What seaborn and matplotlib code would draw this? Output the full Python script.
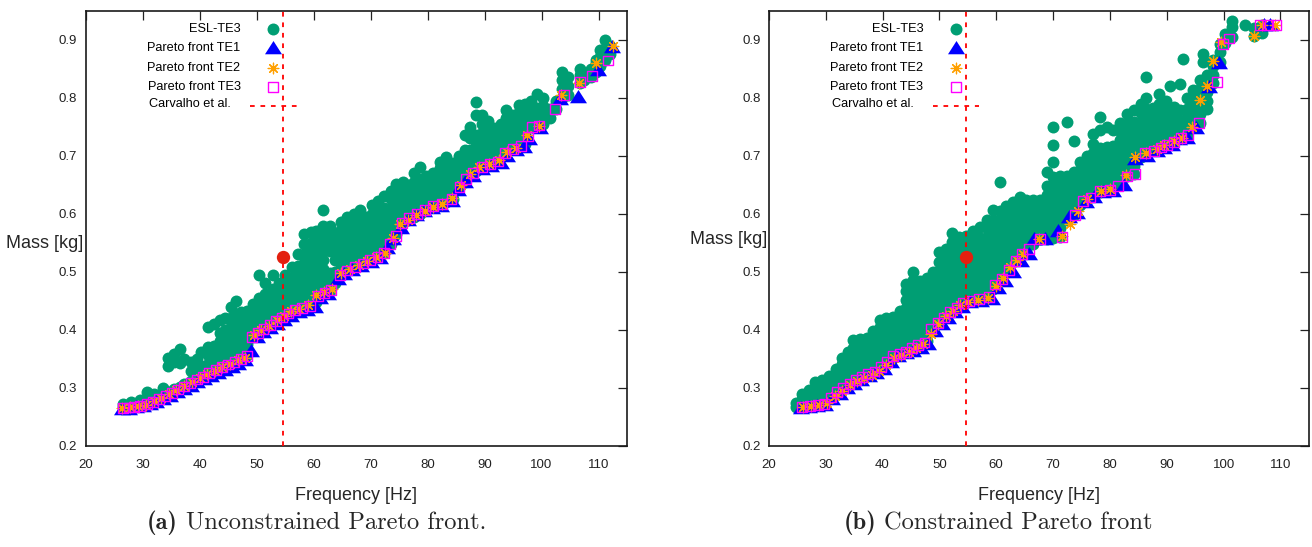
import matplotlib
matplotlib.use("Agg")
import matplotlib.pyplot as plt
import seaborn as sns
import pandas as pd

# ---------------- data ----------------
# (a) unconstrained: ESL-TE3 design cloud, one column of masses per frequency
a_esl_freq = [26.5, 28.0, 29.5, 30.7, 32.0, 33.5, 34.5, 35.5, 36.5, 37.3, 38.5, 39.5,
              40.3, 41.5, 42.5, 43.5, 44.5, 45.5, 46.3, 47.3, 48.3, 49.3, 50.5, 51.5,
              52.8, 54.0, 55.0, 56.2, 57.3, 58.3, 59.5, 60.5, 61.7, 62.8, 63.8, 64.8,
              65.8, 67.0, 68.1, 69.2, 70.2, 71.3, 72.4, 73.5, 74.5, 75.6, 76.6, 77.6,
              78.7, 79.8, 81.0, 82.2, 83.3, 84.4, 85.5, 86.5, 87.5, 88.5, 89.5, 90.6,
              91.7, 92.8, 93.8, 94.9, 96.0, 97.1, 98.2, 99.2, 100.3, 101.5, 102.6, 103.6,
              104.7, 106.7, 107.5, 108.6, 109.6, 110.3, 111.2, 112.0]
a_esl_mass = [
    [0.266, 0.272], [0.268, 0.275], [0.271, 0.278], [0.275, 0.293], [0.281, 0.290],
    [0.288, 0.300], [0.292, 0.338, 0.352], [0.298, 0.345, 0.358], [0.302, 0.342, 0.367],
    [0.307, 0.350], [0.312, 0.328, 0.344], [0.318, 0.333, 0.350],
    [0.322, 0.337, 0.362], [0.326, 0.341, 0.356, 0.370, 0.405],
    [0.331, 0.346, 0.360, 0.372, 0.410], [0.336, 0.350, 0.365, 0.380, 0.395, 0.416],
    [0.340, 0.355, 0.370, 0.385, 0.400, 0.420],
    [0.344, 0.360, 0.375, 0.390, 0.405, 0.420, 0.440],
    [0.348, 0.365, 0.380, 0.395, 0.410, 0.425, 0.450],
    [0.352, 0.370, 0.385, 0.400, 0.415, 0.430],
    [0.356, 0.375, 0.390, 0.405, 0.420, 0.432],
    [0.390, 0.405, 0.420, 0.435, 0.445],
    [0.397, 0.410, 0.425, 0.440, 0.455, 0.494],
    [0.403, 0.418, 0.433, 0.448, 0.462, 0.480],
    [0.410, 0.425, 0.440, 0.455, 0.470, 0.494],
    [0.420, 0.435, 0.450, 0.465, 0.480],
    [0.426, 0.440, 0.455, 0.470, 0.485, 0.495],
    [0.431, 0.445, 0.460, 0.475, 0.490, 0.508],
    [0.435, 0.450, 0.465, 0.480, 0.495, 0.510, 0.530],
    [0.438, 0.455, 0.470, 0.485, 0.500, 0.515, 0.530, 0.548, 0.565],
    [0.442, 0.460, 0.475, 0.490, 0.505, 0.520, 0.535, 0.550, 0.568],
    [0.447, 0.465, 0.480, 0.495, 0.510, 0.525, 0.540, 0.555, 0.570],
    [0.462, 0.478, 0.490, 0.505, 0.520, 0.535, 0.550, 0.565, 0.578, 0.606],
    [0.467, 0.482, 0.497, 0.535, 0.550, 0.565, 0.578],
    [0.480, 0.500, 0.520, 0.535, 0.550, 0.566],
    [0.497, 0.512, 0.527, 0.542, 0.557, 0.572, 0.585],
    [0.503, 0.518, 0.533, 0.548, 0.563, 0.578, 0.594],
    [0.509, 0.525, 0.540, 0.555, 0.570, 0.585, 0.600],
    [0.514, 0.530, 0.545, 0.560, 0.575, 0.590, 0.606],
    [0.518, 0.535, 0.550, 0.565, 0.580, 0.595],
    [0.522, 0.540, 0.555, 0.570, 0.585, 0.600, 0.615],
    [0.527, 0.545, 0.560, 0.575, 0.590, 0.605, 0.622],
    [0.533, 0.550, 0.565, 0.580, 0.595, 0.610, 0.630],
    [0.548, 0.565, 0.580, 0.595, 0.610, 0.625, 0.640],
    [0.565, 0.580, 0.595, 0.610, 0.625, 0.640, 0.652],
    [0.585, 0.600, 0.615, 0.630, 0.645, 0.655],
    [0.590, 0.605, 0.620, 0.635, 0.650],
    [0.595, 0.610, 0.625, 0.640, 0.655, 0.670],
    [0.600, 0.615, 0.630, 0.645, 0.660, 0.680],
    [0.606, 0.620, 0.635, 0.650, 0.665],
    [0.612, 0.627, 0.642, 0.657, 0.670],
    [0.616, 0.632, 0.648, 0.663, 0.678, 0.690],
    [0.620, 0.636, 0.652, 0.668, 0.684, 0.698],
    [0.626, 0.642, 0.658, 0.674, 0.688],
    [0.645, 0.660, 0.675, 0.690, 0.700],
    [0.655, 0.670, 0.685, 0.700, 0.710, 0.735],
    [0.668, 0.682, 0.696, 0.710, 0.730, 0.750],
    [0.674, 0.688, 0.702, 0.716, 0.735, 0.770, 0.793],
    [0.682, 0.696, 0.710, 0.725, 0.740, 0.755, 0.770],
    [0.685, 0.700, 0.715, 0.730, 0.745, 0.760],
    [0.688, 0.703, 0.718, 0.733, 0.748],
    [0.698, 0.713, 0.728, 0.743, 0.755],
    [0.705, 0.720, 0.735, 0.750, 0.765, 0.778],
    [0.711, 0.726, 0.741, 0.756, 0.770],
    [0.716, 0.730, 0.745, 0.760, 0.775, 0.788],
    [0.720, 0.735, 0.750, 0.765, 0.780, 0.790],
    [0.750, 0.765, 0.780, 0.795],
    [0.752, 0.767, 0.782, 0.807],
    [0.755, 0.770, 0.785, 0.800],
    [0.765, 0.780],
    [0.780, 0.795],
    [0.800, 0.815, 0.830, 0.845],
    [0.805, 0.820, 0.835],
    [0.825, 0.840, 0.850],
    [0.830, 0.842],
    [0.835, 0.850],
    [0.845, 0.860, 0.865],
    [0.855, 0.870, 0.882],
    [0.865, 0.880, 0.900],
    [0.875, 0.890],
]

a_te1_freq = [26.3, 27.6, 28.8, 30.0, 31.2, 32.4, 33.6, 34.8, 36.0, 37.2, 38.4, 39.6,
              40.8, 42.0, 43.2, 44.4, 45.6, 46.8, 48.0, 49.0, 50.0, 51.2, 52.4, 53.6,
              54.8, 56.0, 57.4, 58.8, 60.2, 61.2, 62.6, 64.2, 65.4, 66.8, 68.4, 70.0,
              71.6, 72.8, 74.0, 75.3, 76.6, 78.0, 79.4, 80.8, 82.4, 84.2, 85.4, 86.6,
              88.0, 89.6, 91.2, 92.8, 94.0, 95.6, 97.0, 97.8, 99.8, 103.2, 106.4, 109.9,
              112.3]
a_te1_mass = [0.263, 0.264, 0.266, 0.268, 0.272, 0.276, 0.281, 0.286, 0.292, 0.297,
              0.303, 0.309, 0.315, 0.320, 0.326, 0.331, 0.336, 0.341, 0.347, 0.364,
              0.388, 0.396, 0.403, 0.410, 0.417, 0.424, 0.430, 0.434, 0.439, 0.455,
              0.461, 0.488, 0.496, 0.503, 0.510, 0.517, 0.524, 0.541, 0.556, 0.576,
              0.589, 0.597, 0.604, 0.610, 0.614, 0.622, 0.641, 0.655, 0.665, 0.677,
              0.683, 0.687, 0.700, 0.710, 0.715, 0.728, 0.748, 0.798, 0.801, 0.847,
              0.887]

a_te2_freq = [26.4, 27.8, 29.2, 30.5, 31.9, 33.2, 34.6, 35.9, 37.3, 38.6, 40.0, 41.3,
              42.7, 44.0, 45.4, 46.7, 48.0, 49.5, 50.8, 52.1, 53.5, 54.8, 56.1, 57.5,
              59.0, 60.5, 61.8, 63.2, 64.8, 66.3, 67.9, 69.4, 71.0, 72.6, 74.0, 75.1,
              76.5, 78.0, 79.5, 81.0, 82.6, 84.3, 85.9, 87.4, 89.0, 90.8, 92.6, 94.0,
              95.6, 97.4, 99.5, 103.5, 106.5, 109.6, 112.5]
a_te2_mass = [0.265, 0.267, 0.268, 0.271, 0.277, 0.283, 0.290, 0.296, 0.303, 0.310,
              0.316, 0.323, 0.329, 0.335, 0.341, 0.347, 0.352, 0.391, 0.399, 0.407,
              0.416, 0.424, 0.432, 0.436, 0.442, 0.460, 0.465, 0.470, 0.498, 0.505,
              0.512, 0.518, 0.525, 0.533, 0.558, 0.583, 0.590, 0.598, 0.605, 0.611,
              0.616, 0.627, 0.650, 0.668, 0.680, 0.686, 0.692, 0.706, 0.714, 0.735,
              0.752, 0.804, 0.825, 0.859, 0.889]

a_te3_freq = [26.5, 27.5, 28.5, 29.6, 30.7, 31.8, 32.9, 34.0, 35.1, 36.2, 37.3, 38.4,
              39.5, 40.6, 41.7, 42.8, 43.9, 45.0, 46.1, 47.2, 48.3, 49.2, 50.2, 51.2,
              52.3, 53.4, 54.5, 55.6, 56.8, 58.0, 59.4, 60.8, 61.9, 63.0, 64.6, 65.8,
              67.2, 68.6, 69.9, 71.2, 72.4, 73.4, 74.4, 75.5, 76.8, 78.2, 79.5, 80.9,
              82.5, 84.2, 85.6, 86.8, 88.0, 89.5, 91.0, 92.4, 93.6, 95.0, 96.4, 97.6,
              98.3, 99.6, 102.4, 103.9, 106.8, 108.9, 111.6]
a_te3_mass = [0.265, 0.266, 0.267, 0.269, 0.272, 0.276, 0.280, 0.285, 0.291, 0.297,
              0.302, 0.308, 0.314, 0.319, 0.325, 0.330, 0.335, 0.340, 0.345, 0.350,
              0.355, 0.388, 0.395, 0.401, 0.408, 0.415, 0.421, 0.428, 0.434, 0.437,
              0.441, 0.458, 0.463, 0.468, 0.495, 0.502, 0.508, 0.514, 0.520, 0.525,
              0.532, 0.548, 0.562, 0.584, 0.592, 0.600, 0.607, 0.613, 0.617, 0.626,
              0.646, 0.660, 0.670, 0.681, 0.686, 0.690, 0.704, 0.712, 0.717, 0.733,
              0.750, 0.752, 0.781, 0.805, 0.827, 0.838, 0.864]

# (b) constrained
b_esl_freq = [24.8, 25.8, 27.0, 28.2, 29.4, 30.6, 31.8, 32.9, 34.0, 34.8, 36.0, 37.2,
              38.4, 39.5, 40.7, 41.9, 43.0, 44.2, 45.4, 46.6, 47.8, 48.9, 50.0, 51.1,
              52.3, 53.5, 54.7, 55.9, 57.1, 58.3, 59.5, 60.6, 61.7, 62.9, 64.1, 65.3,
              66.5, 67.7, 68.9, 70.0, 71.2, 72.4, 73.6, 74.8, 76.0, 77.1, 78.2, 79.4,
              80.6, 81.8, 83.0, 84.2, 85.4, 86.4, 87.6, 88.7, 89.9, 90.6, 91.2, 92.3,
              92.8, 93.5, 94.7, 95.9, 96.4, 97.0, 98.1, 99.3, 100.3, 101.5, 103.8, 105.3,
              106.8]
b_esl_mass = [
    [0.267, 0.274], [0.268, 0.280, 0.290], [0.269, 0.282, 0.296],
    [0.270, 0.284, 0.298, 0.310], [0.272, 0.286, 0.300, 0.314],
    [0.280, 0.294, 0.308, 0.320], [0.290, 0.304, 0.318, 0.332],
    [0.299, 0.313, 0.327, 0.341, 0.352], [0.306, 0.320, 0.334, 0.348, 0.362],
    [0.310, 0.325, 0.340, 0.355, 0.368, 0.382],
    [0.316, 0.330, 0.345, 0.360, 0.372, 0.384],
    [0.322, 0.336, 0.350, 0.365, 0.378, 0.386],
    [0.327, 0.341, 0.356, 0.370, 0.385, 0.398],
    [0.334, 0.348, 0.362, 0.376, 0.390, 0.404, 0.416],
    [0.342, 0.356, 0.370, 0.384, 0.398, 0.412, 0.420],
    [0.352, 0.366, 0.380, 0.394, 0.408, 0.422],
    [0.357, 0.372, 0.387, 0.402, 0.417, 0.433],
    [0.362, 0.377, 0.392, 0.407, 0.422, 0.437, 0.452, 0.466, 0.479],
    [0.368, 0.383, 0.398, 0.413, 0.428, 0.443, 0.458, 0.472, 0.486, 0.499],
    [0.373, 0.388, 0.403, 0.418, 0.433, 0.448, 0.463, 0.476, 0.484],
    [0.380, 0.395, 0.410, 0.425, 0.440, 0.455, 0.470, 0.484, 0.490],
    [0.403, 0.418, 0.433, 0.448, 0.463, 0.478, 0.490, 0.500],
    [0.412, 0.427, 0.442, 0.457, 0.472, 0.487, 0.502, 0.517, 0.534],
    [0.423, 0.438, 0.453, 0.468, 0.483, 0.498, 0.513, 0.528, 0.540],
    [0.433, 0.448, 0.463, 0.478, 0.493, 0.508, 0.523, 0.538, 0.552, 0.566],
    [0.442, 0.457, 0.472, 0.487, 0.502, 0.517, 0.532, 0.547, 0.560],
    [0.448, 0.463, 0.478, 0.493, 0.508, 0.520, 0.535, 0.550, 0.562],
    [0.451, 0.466, 0.481, 0.496, 0.511, 0.526, 0.541, 0.556, 0.571],
    [0.453, 0.468, 0.483, 0.498, 0.513, 0.528, 0.543, 0.558, 0.577],
    [0.455, 0.470, 0.485, 0.500, 0.515, 0.530, 0.545, 0.560, 0.575, 0.590],
    [0.470, 0.485, 0.500, 0.515, 0.530, 0.545, 0.560, 0.575, 0.590, 0.606],
    [0.486, 0.500, 0.515, 0.530, 0.545, 0.560, 0.575, 0.590, 0.605, 0.654],
    [0.500, 0.515, 0.530, 0.545, 0.560, 0.575, 0.590, 0.605, 0.614],
    [0.518, 0.533, 0.548, 0.563, 0.578, 0.593, 0.608, 0.620],
    [0.527, 0.542, 0.557, 0.572, 0.587, 0.602, 0.617, 0.628],
    [0.535, 0.550, 0.565, 0.580, 0.595, 0.610, 0.623],
    [0.548, 0.563, 0.578, 0.593, 0.608, 0.623],
    [0.556, 0.571, 0.586, 0.601, 0.616, 0.623],
    [0.557, 0.572, 0.587, 0.602, 0.617, 0.632, 0.647, 0.672],
    [0.558, 0.573, 0.588, 0.603, 0.618, 0.633, 0.648, 0.663, 0.689, 0.718, 0.749],
    [0.560, 0.575, 0.590, 0.605, 0.620, 0.635, 0.650, 0.665],
    [0.590, 0.605, 0.620, 0.635, 0.650, 0.665, 0.758],
    [0.598, 0.613, 0.628, 0.643, 0.658, 0.672, 0.726],
    [0.615, 0.630, 0.645, 0.660, 0.675, 0.690],
    [0.625, 0.640, 0.655, 0.670, 0.685, 0.700],
    [0.630, 0.645, 0.660, 0.675, 0.690, 0.705, 0.720, 0.738],
    [0.638, 0.653, 0.668, 0.683, 0.698, 0.713, 0.745, 0.767],
    [0.640, 0.655, 0.670, 0.685, 0.700, 0.715, 0.750],
    [0.642, 0.657, 0.672, 0.687, 0.702, 0.717, 0.745],
    [0.652, 0.667, 0.682, 0.697, 0.712, 0.727, 0.742, 0.757],
    [0.665, 0.680, 0.695, 0.710, 0.725, 0.740, 0.755, 0.772],
    [0.668, 0.683, 0.698, 0.713, 0.728, 0.743, 0.758, 0.778],
    [0.698, 0.713, 0.728, 0.743, 0.758, 0.773, 0.790],
    [0.704, 0.720, 0.735, 0.750, 0.765, 0.780, 0.800, 0.836],
    [0.709, 0.724, 0.739, 0.754, 0.769, 0.782],
    [0.714, 0.729, 0.744, 0.759, 0.774, 0.790, 0.807],
    [0.720, 0.735, 0.750, 0.765, 0.780, 0.795],
    [0.821],
    [0.724, 0.739, 0.754, 0.769, 0.784],
    [0.730, 0.745, 0.760, 0.778, 0.824],
    [0.867],
    [0.734, 0.750, 0.765, 0.780, 0.800],
    [0.750, 0.765, 0.780, 0.795, 0.813],
    [0.757, 0.772, 0.787, 0.800, 0.815, 0.830],
    [0.862, 0.876],
    [0.780, 0.795, 0.810, 0.825, 0.840],
    [0.826, 0.840, 0.855, 0.865],
    [0.862, 0.878, 0.893],
    [0.895, 0.910],
    [0.905, 0.922, 0.933],
    [0.925],
    [0.907, 0.920],
    [0.912, 0.925],
]

b_te1_freq = [25.6, 27.0, 28.4, 29.8, 31.2, 32.5, 33.8, 35.0, 36.3, 37.6, 38.9, 40.2,
              41.5, 42.8, 44.1, 45.4, 46.7, 48.0, 49.2, 50.4, 51.6, 52.8, 54.0, 55.4,
              57.4, 59.2, 60.4, 61.6, 63.0, 64.4, 65.8, 66.6, 68.6, 70.8, 72.8, 74.2,
              75.8, 77.2, 78.7, 80.6, 82.4, 84.5, 86.6, 88.2, 89.6, 91.0, 92.1, 93.6,
              95.2, 97.4, 99.2, 107.1, 108.2]
b_te1_mass = [0.265, 0.266, 0.268, 0.270, 0.280, 0.290, 0.299, 0.307, 0.314, 0.320,
              0.325, 0.333, 0.345, 0.355, 0.359, 0.364, 0.369, 0.375, 0.398, 0.409,
              0.420, 0.430, 0.440, 0.447, 0.450, 0.453, 0.472, 0.484, 0.500, 0.518,
              0.530, 0.556, 0.557, 0.571, 0.594, 0.602, 0.620, 0.628, 0.637, 0.640,
              0.650, 0.695, 0.700, 0.708, 0.714, 0.719, 0.728, 0.730, 0.748, 0.818,
              0.860, 0.926, 0.926]

b_te2_freq = [26.0, 27.4, 28.9, 30.3, 31.6, 32.9, 34.2, 35.5, 36.8, 38.1, 39.4, 40.7,
              42.0, 43.3, 44.6, 45.9, 47.2, 48.5, 49.8, 51.1, 52.4, 53.7, 55.0, 56.8,
              58.6, 60.0, 61.2, 62.4, 63.6, 64.8, 67.6, 71.6, 73.0, 74.4, 76.0, 78.4,
              80.0, 82.8, 84.5, 86.4, 88.2, 89.6, 91.2, 92.6, 94.5, 95.9, 97.1, 98.2,
              99.6, 105.4, 106.8, 109.1]
b_te2_mass = [0.266, 0.268, 0.270, 0.274, 0.285, 0.295, 0.304, 0.311, 0.317, 0.322,
              0.329, 0.340, 0.352, 0.357, 0.362, 0.369, 0.376, 0.392, 0.410, 0.423,
              0.433, 0.442, 0.448, 0.452, 0.455, 0.476, 0.490, 0.508, 0.520, 0.531,
              0.557, 0.561, 0.583, 0.604, 0.626, 0.640, 0.642, 0.666, 0.698, 0.705,
              0.712, 0.718, 0.725, 0.731, 0.750, 0.796, 0.821, 0.864, 0.896, 0.907,
              0.925, 0.925]

b_te3_freq = [25.8, 27.3, 28.6, 29.8, 30.9, 32.0, 33.1, 34.2, 35.3, 36.4, 37.5, 38.6,
              39.7, 40.8, 41.9, 43.0, 44.1, 45.2, 46.3, 47.4, 48.6, 49.7, 50.8, 51.9,
              53.0, 54.1, 55.3, 57.0, 58.8, 59.8, 61.0, 62.2, 63.4, 64.6, 65.8, 67.7,
              71.6, 73.8, 75.2, 76.6, 78.3, 80.0, 81.4, 83.0, 84.4, 86.2, 87.8, 89.0,
              90.0, 91.3, 92.5, 93.8, 95.6, 98.8, 99.9, 101.0, 106.4, 107.8, 109.3]
b_te3_mass = [0.267, 0.268, 0.270, 0.272, 0.283, 0.292, 0.300, 0.307, 0.313, 0.318,
              0.323, 0.328, 0.336, 0.345, 0.354, 0.358, 0.362, 0.368, 0.373, 0.378,
              0.402, 0.412, 0.421, 0.430, 0.438, 0.446, 0.450, 0.453, 0.456, 0.478,
              0.487, 0.503, 0.518, 0.530, 0.539, 0.556, 0.560, 0.598, 0.622, 0.628,
              0.639, 0.641, 0.648, 0.664, 0.668, 0.704, 0.708, 0.714, 0.719, 0.724,
              0.731, 0.736, 0.757, 0.827, 0.893, 0.902, 0.925, 0.925, 0.925]

# Carvalho et al. reference design
carvalho_freq = 54.7
carvalho_mass = 0.525

x_ticks = [20, 30, 40, 50, 60, 70, 80, 90, 100, 110]
y_ticks = [0.2, 0.3, 0.4, 0.5, 0.6, 0.7, 0.8, 0.9]
legend_labels = ["ESL-TE3", "Pareto front TE1", "Pareto front TE2",
                 "Pareto front TE3", "Carvalho et al."]
captions = [("(a)", "Unconstrained Pareto front."),
            ("(b)", "Constrained Pareto front")]

# ---------------- style ----------------
sns.set_theme(style="white")
plt.rcParams["font.family"] = ["Liberation Sans", "DejaVu Sans"]

GREEN = "#009e73"
BLUE = "#0000ff"
ORANGE = "#ffa000"
MAGENTA = "#ff00ff"
RED_LINE = "#ff0000"
RED_DOT = "#e3200f"
TRI = [(-1.0, -0.68), (1.0, -0.68), (0.0, 0.88)]
STAR = (8, 2, 0)
DOT_S = 74

W, H = 1312, 547
fig = plt.figure(figsize=(W / 100, H / 100), dpi=100)
ax_a = fig.add_axes([85.7 / W, 1 - 445.7 / H, 541.3 / W, 435 / H])
ax_b = fig.add_axes([768.8 / W, 1 - 445.7 / H, 540.1 / W, 435 / H])


def cloud_frame(freqs, masses):
    rows = [(f, m) for f, col in zip(freqs, masses) for m in col]
    return pd.DataFrame(rows, columns=["freq", "mass"])


def draw_panel(ax, esl, te1, te2, te3):
    sns.scatterplot(data=esl, x="freq", y="mass", ax=ax, marker="o", s=DOT_S,
                    color=GREEN, linewidth=0, zorder=2)
    sns.scatterplot(x=te1[0], y=te1[1], ax=ax, marker=TRI, s=150,
                    color=BLUE, linewidth=0, zorder=3)
    sns.scatterplot(x=te2[0], y=te2[1], ax=ax, marker=STAR, s=58,
                    color=ORANGE, linewidth=0.9, zorder=4)
    sns.scatterplot(x=te3[0], y=te3[1], ax=ax, marker="s", s=50,
                    color=MAGENTA, facecolor="none", edgecolor=MAGENTA,
                    linewidth=1.0, zorder=5)
    ax.axvline(carvalho_freq, color=RED_LINE, lw=1.3, ls=(0, (2.6, 3.2)), zorder=6)
    sns.scatterplot(x=[carvalho_freq], y=[carvalho_mass], ax=ax, marker="o",
                    s=92, color=RED_DOT, linewidth=0, zorder=7)

    ax.set_xlim(20, 115)
    ax.set_ylim(0.2, 0.95)
    ax.set_xticks(x_ticks)
    ax.set_yticks(y_ticks)
    ax.set_xticklabels([str(t) for t in x_ticks])
    ax.set_yticklabels([f"{t:.1f}" for t in y_ticks])
    ax.set_xlabel("")
    ax.set_ylabel("")
    ax.tick_params(axis="both", direction="in", length=6.5, width=0.9,
                   top=True, right=True, labelsize=9.5, colors="#222222")
    ax.tick_params(axis="x", pad=9.8)
    ax.tick_params(axis="y", pad=6.0)
    for sp in ax.spines.values():
        sp.set_color("#1a1a1a")
        sp.set_linewidth(1.2)
    if ax.get_legend() is not None:
        ax.get_legend().remove()

    # gnuplot-style key: right-aligned text, sample to its right
    rows_y = [0.958, 0.9136, 0.869, 0.825, 0.781]
    tx, mx = 0.286, 0.3466
    kw = dict(transform=ax.transAxes, ha="right", va="center", fontsize=9.2,
              color="black")
    for lab, yy in zip(legend_labels[:4], rows_y[:4]):
        ax.text(tx, yy, lab, **kw)
    ax.text(tx - 0.018, rows_y[4] + 0.004, legend_labels[4], **kw)
    ax.scatter([mx], [rows_y[0]], transform=ax.transAxes, marker="o", s=DOT_S,
               color=GREEN, linewidth=0, zorder=8, clip_on=False)
    ax.scatter([mx], [rows_y[1]], transform=ax.transAxes, marker=TRI, s=150,
               color=BLUE, linewidth=0, zorder=8, clip_on=False)
    ax.scatter([mx], [rows_y[2]], transform=ax.transAxes, marker=STAR, s=58,
               color=ORANGE, linewidth=0.9, zorder=8, clip_on=False)
    ax.scatter([mx], [rows_y[3]], transform=ax.transAxes, marker="s", s=50,
               facecolor="none", edgecolor=MAGENTA, linewidth=1.0, zorder=8,
               clip_on=False)
    ax.plot([0.3035, 0.3899], [rows_y[4], rows_y[4]], transform=ax.transAxes,
            color=RED_LINE, lw=1.3, ls=(0, (2.6, 3.2)), zorder=8)


draw_panel(ax_a, cloud_frame(a_esl_freq, a_esl_mass),
           (a_te1_freq, a_te1_mass), (a_te2_freq, a_te2_mass),
           (a_te3_freq, a_te3_mass))
draw_panel(ax_b, cloud_frame(b_esl_freq, b_esl_mass),
           (b_te1_freq, b_te1_mass), (b_te2_freq, b_te2_mass),
           (b_te3_freq, b_te3_mass))

# axis titles
fig.text(83 / W, 1 - 244 / H, "Mass [kg]", ha="right", va="center", fontsize=13)
fig.text(767 / W, 1 - 240 / H, "Mass [kg]", ha="right", va="center", fontsize=13)
fig.text(356.4 / W, 1 - 495 / H, "Frequency [Hz]", ha="center", va="center",
         fontsize=13)
fig.text(1039 / W, 1 - 495 / H, "Frequency [Hz]", ha="center", va="center",
         fontsize=13)

# sub-figure captions: bold tag followed by roman text, centred as a pair
fig.canvas.draw()
renderer = fig.canvas.get_renderer()
CAP_SIZE = 17.6
gap_px = 8
for (tag, body), cx in zip(captions, [316.5, 998]):
    t1 = fig.text(0, 1 - 523 / H, tag, ha="left", va="center",
                  fontsize=CAP_SIZE, family="cmb10")
    t2 = fig.text(0, 1 - 523 / H, body, ha="left", va="center",
                  fontsize=CAP_SIZE, family="cmr10")
    w1 = t1.get_window_extent(renderer).width
    w2 = t2.get_window_extent(renderer).width
    x0 = cx - (w1 + gap_px + w2) / 2
    t1.set_x(x0 / W)
    t2.set_x((x0 + w1 + gap_px) / W)

fig.savefig("out.png", dpi=100, facecolor="white")
